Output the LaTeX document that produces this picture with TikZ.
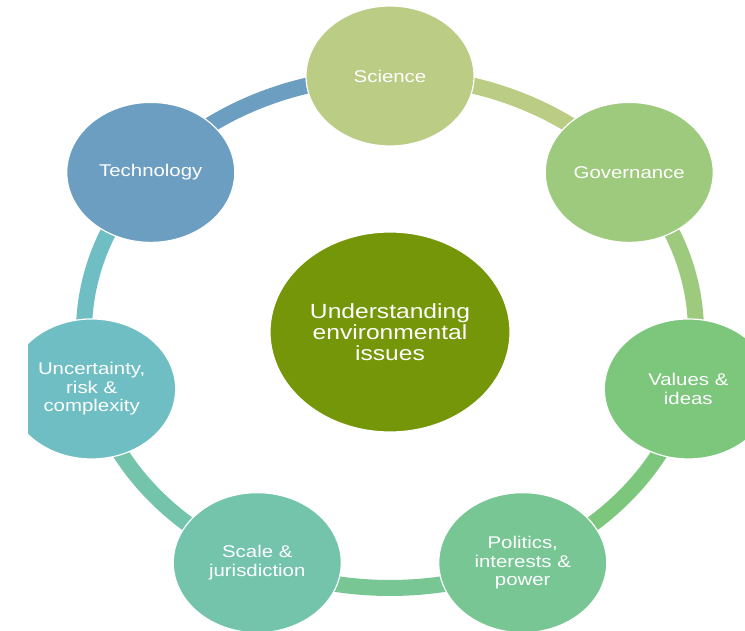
\documentclass[tikz,border=0pt]{standalone}
\usepackage{fontspec}
\usetikzlibrary{shapes.geometric,backgrounds}
\newfontfamily\lblfont{Liberation Sans}[FakeStretch=1.2]
\definecolor{sciC}{HTML}{BBCC85}
\definecolor{govC}{HTML}{9ECA7E}
\definecolor{valC}{HTML}{7DC77D}
\definecolor{polC}{HTML}{78C694}
\definecolor{scaC}{HTML}{73C4AB}
\definecolor{uncC}{HTML}{6FBEC3}
\definecolor{tecC}{HTML}{6C9EC2}
\definecolor{midC}{HTML}{749608}
\tikzset{
  topic/.style={ellipse,draw=white,line width=1.2pt,text=white,align=center,
    minimum width=168,minimum height=140,inner sep=0pt,
    font=\lblfont\fontsize{17}{18.5}\selectfont},
  ring/.style={line width=16pt}
}

\begin{document}
\begin{tikzpicture}[x=1pt,y=1pt]
  \useasboundingbox (0,0) rectangle (745,630);
  \clip (28,0) rectangle (745,630);
  \coordinate (c) at (390,298);
  \node[topic,fill=midC,minimum width=240,minimum height=200,
    font=\lblfont\fontsize{20.5}{21}\selectfont] (mid) at (c)
    {Understanding\\environmental\\issues};
  \foreach \nm/\ang/\col/\txt in {
      sci/90/sciC/Science,
      gov/38.57/govC/Governance,
      val/-12.86/valC/{Values \&\\ideas},
      pol/-64.29/polC/{Politics,\\interests \&\\power},
      sca/-115.71/scaC/{Scale \&\\jurisdiction},
      unc/-167.14/uncC/{Uncertainty,\\risk \&\\complexity},
      tec/141.43/tecC/Technology} {
    \node[topic,fill=\col] (\nm) at ([shift={(\ang:306 and 256)}]c) {\txt};
  }
  \begin{pgfonlayer}{background}
    \foreach \nm/\ang/\col in {sci/90/sciC,gov/38.57/govC,val/-12.86/valC,
        pol/-64.29/polC,sca/-115.71/scaC,unc/-167.14/uncC,tec/141.43/tecC}
      \draw[ring,\col] (\nm.center)
        arc[start angle=\ang,delta angle=-51.43,x radius=306,y radius=256];
  \end{pgfonlayer}
\end{tikzpicture}
\end{document}
